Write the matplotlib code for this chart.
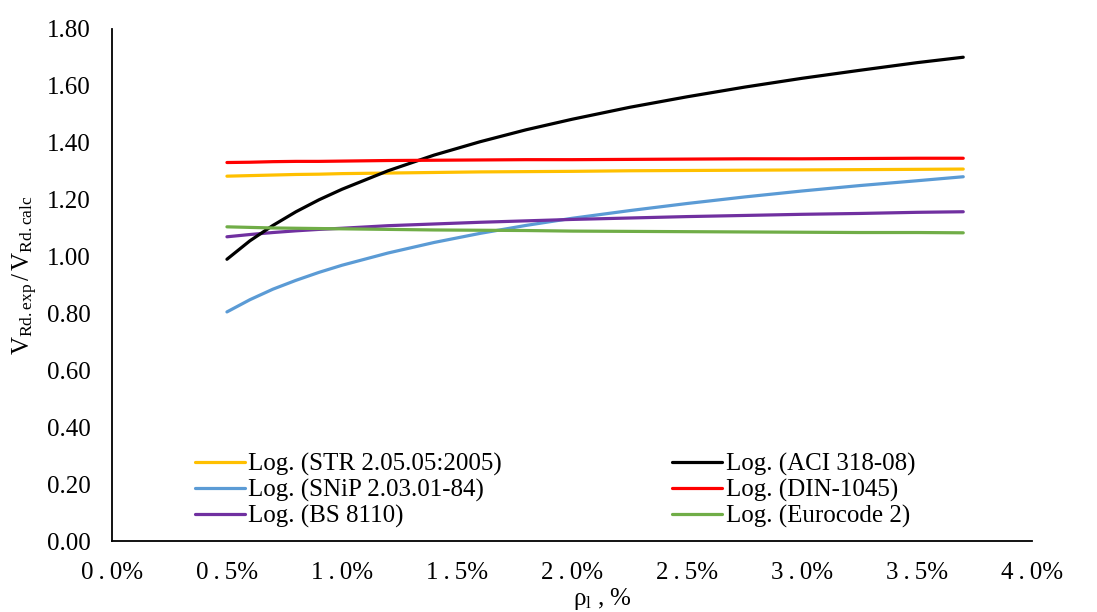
import matplotlib
matplotlib.use('Agg')
import matplotlib.pyplot as plt
from matplotlib.ticker import FuncFormatter

plt.rcParams['font.family'] = ['Liberation Serif', 'DejaVu Serif']
plt.rcParams['mathtext.fontset'] = 'custom'
plt.rcParams['mathtext.rm'] = 'Liberation Serif'
plt.rcParams['mathtext.it'] = 'Liberation Serif:italic'

# reinforcement ratio, %
rho = [0.5, 0.6, 0.7, 0.8, 0.9, 1.0, 1.2, 1.4, 1.6, 1.8, 2.0, 2.25, 2.5, 2.75, 3.0, 3.25, 3.5, 3.7]

# logarithmic trendlines of V_Rd.exp / V_Rd.calc
str_2005 = [1.282, 1.284, 1.286, 1.288, 1.289, 1.291, 1.293, 1.295, 1.297, 1.298, 1.299, 1.301,
            1.302, 1.303, 1.304, 1.305, 1.306, 1.307]
snip = [0.805, 0.848, 0.885, 0.916, 0.944, 0.969, 1.012, 1.049, 1.081, 1.109, 1.134, 1.161,
        1.186, 1.209, 1.230, 1.249, 1.266, 1.280]
bs_8110 = [1.069, 1.077, 1.084, 1.090, 1.095, 1.099, 1.108, 1.114, 1.120, 1.125, 1.130, 1.135,
           1.140, 1.144, 1.148, 1.151, 1.155, 1.157]
aci = [0.990, 1.055, 1.109, 1.157, 1.199, 1.236, 1.301, 1.356, 1.403, 1.445, 1.482, 1.524,
       1.561, 1.595, 1.626, 1.654, 1.681, 1.700]
din = [1.330, 1.331, 1.333, 1.334, 1.334, 1.335, 1.337, 1.338, 1.339, 1.340, 1.340, 1.341,
       1.342, 1.343, 1.343, 1.344, 1.345, 1.345]
ec2 = [1.104, 1.102, 1.100, 1.099, 1.098, 1.097, 1.095, 1.093, 1.092, 1.091, 1.089, 1.088,
       1.087, 1.086, 1.085, 1.084, 1.084, 1.083]

series = [
    ('Log. (STR 2.05.05:2005)', str_2005, '#FFC000'),
    ('Log. (SNiP 2.03.01-84)', snip, '#5B9BD5'),
    ('Log. (BS 8110)', bs_8110, '#7030A0'),
    ('Log. (ACI 318-08)', aci, '#000000'),
    ('Log. (DIN-1045)', din, '#FF0000'),
    ('Log. (Eurocode 2)', ec2, '#70AD47'),
]

fig = plt.figure(figsize=(10.97, 6.12), dpi=100)
ax = fig.add_axes([0.102, 0.116, 0.839, 0.837])

for label, y, color in series:
    ax.plot(rho, y, color=color, lw=2.3, label=label, solid_capstyle='round')

ax.set_xlim(0, 4.0)
ax.set_ylim(0, 1.8)
ax.set_xticks([0, 0.5, 1.0, 1.5, 2.0, 2.5, 3.0, 3.5, 4.0])
ax.set_yticks([0, 0.2, 0.4, 0.6, 0.8, 1.0, 1.2, 1.4, 1.6, 1.8])
# spaced-out percent labels
ax.xaxis.set_major_formatter(FuncFormatter(
    lambda v, p: '\u2009'.join(f'{v:.1f}') + '%'))
ax.yaxis.set_major_formatter(FuncFormatter(lambda v, p: f'{v:.2f}'))
ax.tick_params(length=0, labelsize=18)
ax.tick_params(axis='y', pad=15)
ax.tick_params(axis='x', pad=15)

for s in ['top', 'right']:
    ax.spines[s].set_visible(False)
for s in ['left', 'bottom']:
    ax.spines[s].set_linewidth(1.3)

ax.set_ylabel(r'$\mathregular{V_{Rd{.}exp}\,/\,V_{Rd{.}calc}}$', fontsize=18)
ax.yaxis.set_label_coords(-0.078, 0.518)
ax.set_xlabel(r'$\mathregular{\rho_l}$ , %', fontsize=18)
ax.xaxis.set_label_coords(0.533, -0.088)

ax.legend(ncol=2, loc='lower left', bbox_to_anchor=(0.09, 0.025), frameon=False,
          fontsize=18, handlelength=2.0, handletextpad=0.15, labelspacing=0.12,
          columnspacing=6.8, borderpad=0, borderaxespad=0)

fig.savefig('out.png', dpi=100)
